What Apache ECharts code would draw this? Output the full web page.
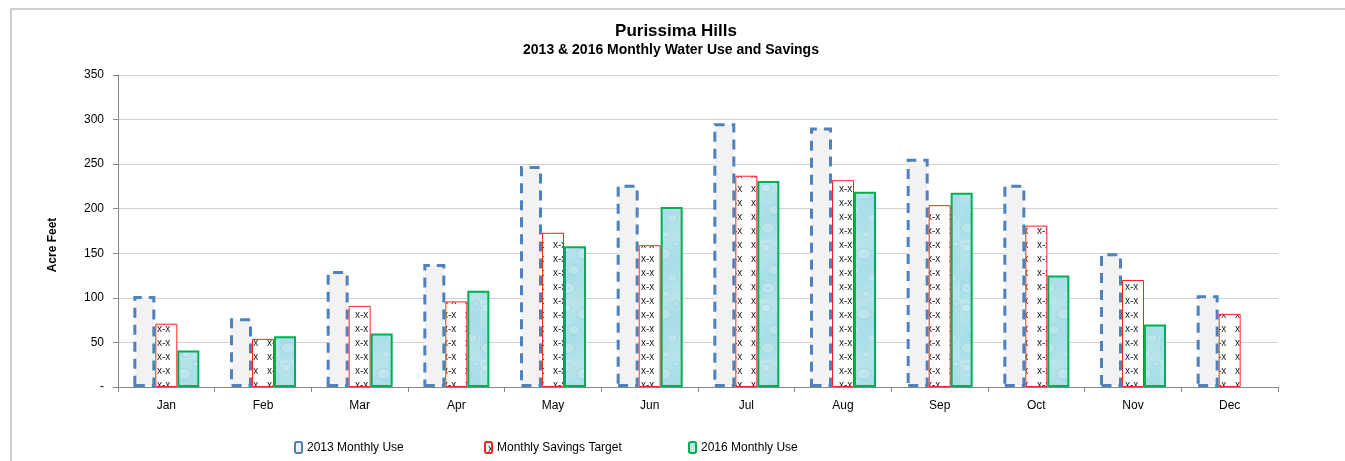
<!DOCTYPE html>
<html>
<head>
<meta charset="utf-8">
<script src="https://cdn.jsdelivr.net/npm/echarts@6/dist/echarts.min.js"></script>
<style>
  html, body { margin: 0; padding: 0; background: #fff; }
  #chart { width: 1345px; height: 461px; }
</style>
</head>
<body>
<div id="chart"></div>
<script>
(function () {
  'use strict';

  var months = ['Jan', 'Feb', 'Mar', 'Apr', 'May', 'Jun', 'Jul', 'Aug', 'Sep', 'Oct', 'Nov', 'Dec'];
  var use2013 = [102, 77, 130, 138, 248, 227, 296, 291, 256, 227, 150, 103];
  var savingsTarget = [71, 54, 91, 96, 173, 159, 237, 232, 204, 181, 120, 82];
  var use2016 = [41, 57, 60, 108, 158, 202, 231, 219, 218, 125, 70, null];
  var yTicks = { min: 0, max: 350, step: 50 };

  var FONT = '"Liberation Sans", Arial, sans-serif';

  // "x-x" text pattern for the savings target bars
  function xxPattern() {
    var c = document.createElement('canvas');
    c.width = 22; c.height = 14;
    var g = c.getContext('2d');
    g.fillStyle = '#ffffff';
    g.fillRect(0, 0, c.width, c.height);
    g.fillStyle = '#222';
    g.font = '10px ' + FONT;
    g.textBaseline = 'middle';
    g.fillText('x-x', 3, 7);
    return c;
  }

  // soft water-drop texture for the 2016 bars
  function waterPattern() {
    var c = document.createElement('canvas');
    c.width = 40; c.height = 60;
    var g = c.getContext('2d');
    var grd = g.createLinearGradient(0, 0, 40, 60);
    grd.addColorStop(0, '#bfe7ee');
    grd.addColorStop(0.5, '#a8dde7');
    grd.addColorStop(1, '#bbe5ec');
    g.fillStyle = grd;
    g.fillRect(0, 0, 40, 60);
    var drops = [[6, 8, 5], [24, 14, 7], [14, 30, 6], [32, 38, 5], [8, 48, 7], [26, 54, 4], [36, 4, 3]];
    drops.forEach(function (d) {
      g.beginPath();
      g.ellipse(d[0], d[1], d[2], d[2] * 0.8, 0, 0, Math.PI * 2);
      g.fillStyle = 'rgba(255,255,255,0.18)';
      g.fill();
      g.strokeStyle = 'rgba(90,170,190,0.22)';
      g.lineWidth = 1;
      g.stroke();
    });
    return c;
  }

  var chart = echarts.init(document.getElementById('chart'), null, { renderer: 'canvas' });

  function legendAt(left, name) {
    return {
      left: left, top: 436,
      data: [name],
      itemWidth: 7, itemHeight: 11, itemGap: 4,
      textStyle: { fontFamily: FONT, fontSize: 12, color: '#000' },
      selectedMode: false
    };
  }

  chart.setOption({
    backgroundColor: '#fff',
    animation: false,
    textStyle: { fontFamily: FONT },
    graphic: [
      { type: 'rect', shape: { x: 11, y: 9, width: 1400, height: 500 }, style: { fill: 'none', stroke: '#d0d0d0', lineWidth: 2 }, silent: true, z: -10 },
      { type: 'text', x: 676, y: 31, style: { text: 'Purissima Hills', font: 'bold 17px ' + FONT, fill: '#000', textAlign: 'center', textVerticalAlign: 'middle' } },
      { type: 'text', x: 671, y: 50, style: { text: '2013 & 2016 Monthly Water Use and Savings', font: 'bold 14px ' + FONT, fill: '#000', textAlign: 'center', textVerticalAlign: 'middle' } },
      { type: 'text', x: 53, y: 245, rotation: Math.PI / 2, style: { text: 'Acre Feet', font: 'bold 12px ' + FONT, fill: '#000', textAlign: 'center', textVerticalAlign: 'middle' } }
    ],
    legend: [
      legendAt(289, '2013 Monthly Use'),
      legendAt(479, 'Monthly Savings Target'),
      legendAt(683, '2016 Monthly Use')
    ],
    grid: { left: 118, top: 75, width: 1160, height: 312, containLabel: false },
    xAxis: {
      type: 'category',
      data: months,
      axisLine: { lineStyle: { color: '#868686', width: 1 } },
      axisTick: { show: true, length: 5, lineStyle: { color: '#868686' } },
      axisLabel: { color: '#000', fontSize: 12, margin: 13 },
      splitLine: { show: false }
    },
    yAxis: {
      type: 'value',
      min: yTicks.min, max: yTicks.max, interval: yTicks.step,
      axisLine: { show: true, lineStyle: { color: '#868686', width: 1 } },
      axisTick: { show: true, length: 5, lineStyle: { color: '#868686' } },
      axisLabel: {
        color: '#000', fontSize: 12, margin: 14,
        formatter: function (v) { return v === 0 ? '-' : String(v); }
      },
      splitLine: { lineStyle: { color: '#d0d0d0', width: 1 } }
    },
    series: [
      {
        type: 'bar', name: '2013 Monthly Use', data: use2013,
        barWidth: 22, barGap: '0%', barCategoryGap: '31%',
        itemStyle: { color: '#f2f2f2', borderColor: '#4f81bd', borderWidth: 3, borderType: [10, 7] }
      },
      {
        type: 'bar', name: 'Monthly Savings Target', data: savingsTarget,
        barWidth: 22,
        itemStyle: { color: { image: xxPattern(), repeat: 'repeat' }, borderColor: '#ff2020', borderWidth: 1 }
      },
      {
        type: 'bar', name: '2016 Monthly Use', data: use2016,
        barWidth: 22,
        itemStyle: { color: { image: waterPattern(), repeat: 'repeat' }, borderColor: '#00b050', borderWidth: 2 }
      }
    ]
  });
})();
</script>
</body>
</html>
